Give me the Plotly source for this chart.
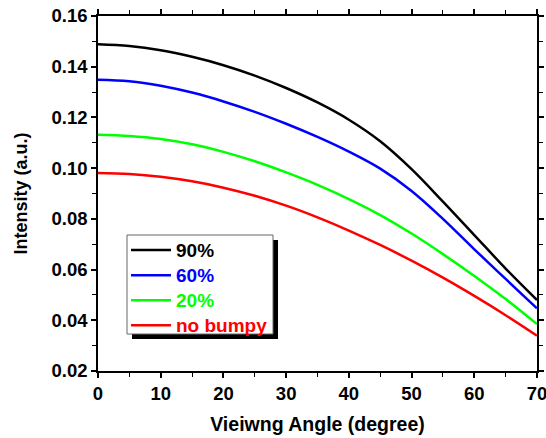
import plotly.graph_objects as go

angle = [0, 5, 10, 15, 20, 25, 30, 35, 40, 45, 50, 55, 60, 65, 70]
s90 = [0.1489, 0.1482, 0.1465, 0.1439, 0.1406, 0.1365, 0.1316, 0.1259, 0.1191, 0.1106, 0.0996, 0.0868, 0.0736, 0.0604, 0.0480]
s60 = [0.1349, 0.1343, 0.1325, 0.1298, 0.1263, 0.1222, 0.1175, 0.1123, 0.1065, 0.0998, 0.0910, 0.0800, 0.0680, 0.0563, 0.0447]
s20 = [0.1132, 0.1127, 0.1115, 0.1094, 0.1064, 0.1027, 0.0983, 0.0934, 0.0878, 0.0815, 0.0742, 0.0661, 0.0575, 0.0484, 0.0385]
snb = [0.0981, 0.0977, 0.0966, 0.0948, 0.0923, 0.0891, 0.0852, 0.0806, 0.0754, 0.0697, 0.0635, 0.0568, 0.0496, 0.0420, 0.0339]

names = ["90%", "60%", "20%", "no bumpy"]
colors = ["#000000", "#0000FF", "#00FF00", "#FF0000"]
series = [s90, s60, s20, snb]

x_ticks = [0, 10, 20, 30, 40, 50, 60, 70]
y_ticks = [0.02, 0.04, 0.06, 0.08, 0.10, 0.12, 0.14, 0.16]

W, H = 546, 438
L, R, T, B = 98, 9, 16, 67

fig = go.Figure()
for nm, col, ys in zip(names, colors, series):
    fig.add_trace(go.Scatter(
        x=angle, y=ys, mode="lines", line=dict(color=col, width=2.5, shape="spline"),
        name=f"<span style='color:{col};font-size:19px'>{nm}</span>",
    ))

font_family = "Liberation Sans, Arial, sans-serif"
axis_common = dict(
    showline=True, linecolor="black", linewidth=1.5, mirror="ticks",
    ticks="outside", ticklen=5, tickwidth=1.5, tickcolor="black",
    showgrid=False, zeroline=False, automargin=False, ticklabeloverflow="allow",
    tickfont=dict(family=font_family, size=18.5, color="black", weight="bold"),
)

fig.update_xaxes(range=[0, 70], tickvals=x_ticks, ticktext=[str(v) for v in x_ticks],
                 minor=dict(ticks="outside", ticklen=4, tickwidth=1.2, tickcolor="black", dtick=5),
                 title=dict(text="Vieiwng Angle (degree)", standoff=14,
                            font=dict(family=font_family, size=19.5, color="black", weight="bold")),
                 **axis_common)
fig.update_yaxes(range=[0.02, 0.16], tickvals=y_ticks, ticktext=[f"{v:.2f}" for v in y_ticks],
                 minor=dict(ticks="outside", ticklen=4, tickwidth=1.2, tickcolor="black", dtick=0.01, tick0=0.02),
                 title=dict(text="Intensity (a.u.)", standoff=19,
                            font=dict(family=font_family, size=18, color="black", weight="bold")),
                 **axis_common)

pw, ph = W - L - R, H - T - B
lx0, ly0, lx1, ly1 = 127, 235, 273, 334
def px2paper_x(px):
    return (px - L) / pw
def px2paper_y(py):
    return (H - B - py) / ph

# legend shadow and box
fig.add_shape(type="rect", xref="paper", yref="paper",
              x0=px2paper_x(lx0 + 5), x1=px2paper_x(lx1 + 5),
              y0=px2paper_y(ly1 + 5), y1=px2paper_y(ly0 + 5),
              fillcolor="black", line=dict(width=0), layer="above")
fig.add_shape(type="rect", xref="paper", yref="paper",
              x0=px2paper_x(lx0), x1=px2paper_x(lx1),
              y0=px2paper_y(ly1), y1=px2paper_y(ly0),
              fillcolor="white", line=dict(color="#666666", width=1), layer="above")

fig.update_layout(
    width=W, height=H,
    margin=dict(l=L, r=R, t=T, b=B, autoexpand=False),
    paper_bgcolor="white", plot_bgcolor="white",
    showlegend=True,
    legend=dict(x=px2paper_x(lx0 - 1), y=px2paper_y(232.5), xanchor="left", yanchor="top",
                bgcolor="rgba(0,0,0,0)", borderwidth=0,
                font=dict(family=font_family, size=17, weight="bold"),
                itemwidth=40, tracegroupgap=0),
)

fig.write_html("out.html", config={"displayModeBar": False},
               post_script="document.body.style.margin='0';document.body.style.overflow='hidden';")
